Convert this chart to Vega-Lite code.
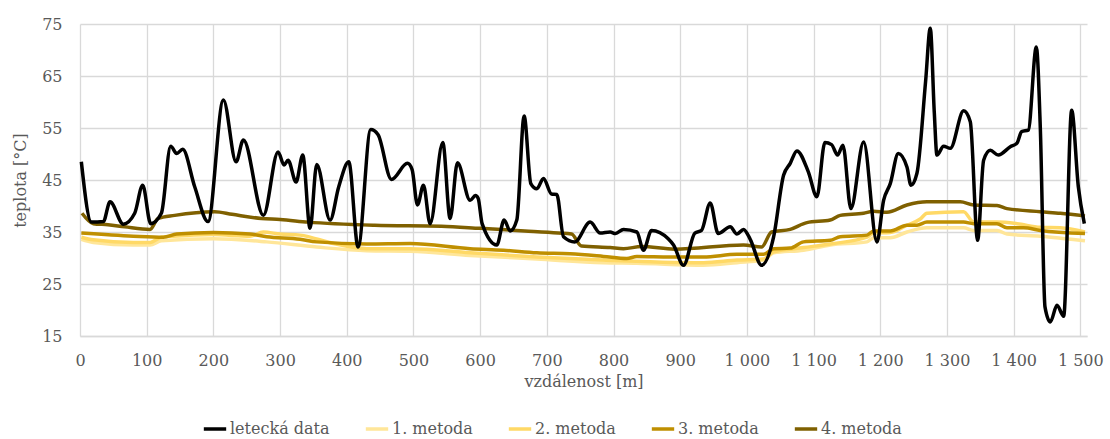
{
  "$schema": "https://vega.github.io/schema/vega-lite/v6.json",
  "width": 1007,
  "height": 312,
  "autosize": {"type": "none"},
  "padding": {"left": 80, "top": 24, "right": 23, "bottom": 103},
  "background": "white",
  "config": {
    "font": "DejaVu Serif",
    "view": {"stroke": null},
    "axis": {"gridColor": "#d9d9d9", "gridWidth": 1.3, "labelColor": "#595959", "titleColor": "#595959", "labelFont": "DejaVu Serif", "titleFont": "DejaVu Serif", "labelFontSize": 16, "titleFontSize": 16, "titleFontWeight": "normal", "ticks": false}
  },
  "datasets": {
    "air": [
      {"s":"letecká data","x":2,"y":48.5},{"s":"letecká data","x":17,"y":36.9},{"s":"letecká data","x":35,"y":37},{"s":"letecká data","x":45,"y":40.8},{"s":"letecká data","x":65,"y":36.5},{"s":"letecká data","x":82,"y":38.6},{"s":"letecká data","x":94,"y":44.0},{"s":"letecká data","x":106,"y":36.6},{"s":"letecká data","x":122,"y":38.6},{"s":"letecká data","x":136,"y":51.5},{"s":"letecká data","x":145,"y":50.1},{"s":"letecká data","x":154,"y":50.9},{"s":"letecká data","x":172,"y":43.7},{"s":"letecká data","x":192,"y":37.0},{"s":"letecká data","x":215,"y":60.4},{"s":"letecká data","x":234,"y":48.5},{"s":"letecká data","x":245,"y":52.7},{"s":"letecká data","x":275,"y":38.2},{"s":"letecká data","x":297,"y":50.4},{"s":"letecká data","x":306,"y":47.9},{"s":"letecká data","x":312,"y":48.8},{"s":"letecká data","x":324,"y":44.6},{"s":"letecká data","x":334,"y":49.8},{"s":"letecká data","x":345,"y":35.7},{"s":"letecká data","x":355,"y":48.0},{"s":"letecká data","x":375,"y":37.3},{"s":"letecká data","x":388,"y":43.7},{"s":"letecká data","x":403,"y":48.5},{"s":"letecká data","x":417,"y":32.1},{"s":"letecká data","x":436,"y":54.7},{"s":"letecká data","x":447,"y":53.7},{"s":"letecká data","x":467,"y":45.1},{"s":"letecká data","x":491,"y":48.2},{"s":"letecká data","x":498,"y":47},{"s":"letecká data","x":506,"y":40.2},{"s":"letecká data","x":515,"y":44.0},{"s":"letecká data","x":525,"y":36.6},{"s":"letecká data","x":544,"y":52.2},{"s":"letecká data","x":555,"y":37.6},{"s":"letecká data","x":566,"y":48.3},{"s":"letecká data","x":585,"y":41.1},{"s":"letecká data","x":593,"y":42.0},{"s":"letecká data","x":597,"y":41.5},{"s":"letecká data","x":603,"y":36.6},{"s":"letecká data","x":625,"y":32.5},{"s":"letecká data","x":636,"y":37.3},{"s":"letecká data","x":645,"y":35.2},{"s":"letecká data","x":655,"y":37.3},{"s":"letecká data","x":666,"y":57.3},{"s":"letecká data","x":676,"y":44.3},{"s":"letecká data","x":685,"y":43.3},{"s":"letecká data","x":695,"y":45.3},{"s":"letecká data","x":707,"y":42.3},{"s":"letecká data","x":715,"y":42.2},{"s":"letecká data","x":725,"y":34.1},{"s":"letecká data","x":742,"y":33.1},{"s":"letecká data","x":765,"y":36.9},{"s":"letecká data","x":780,"y":34.8},{"s":"letecká data","x":795,"y":35.0},{"s":"letecká data","x":803,"y":34.7},{"s":"letecká data","x":815,"y":35.5},{"s":"letecká data","x":835,"y":35.0},{"s":"letecká data","x":845,"y":31.5},{"s":"letecká data","x":857,"y":35.3},{"s":"letecká data","x":882,"y":33.7},{"s":"letecká data","x":890,"y":32.5},{"s":"letecká data","x":905,"y":28.6},{"s":"letecká data","x":922,"y":34.8},{"s":"letecká data","x":932,"y":35.3},{"s":"letecká data","x":945,"y":40.6},{"s":"letecká data","x":957,"y":34.7},{"s":"letecká data","x":975,"y":36.0},{"s":"letecká data","x":985,"y":34.6},{"s":"letecká data","x":995,"y":35.5},{"s":"letecká data","x":1005,"y":33.6},{"s":"letecká data","x":1022,"y":28.6},{"s":"letecká data","x":1040,"y":34.0},{"s":"letecká data","x":1055,"y":45.9},{"s":"letecká data","x":1065,"y":48.2},{"s":"letecká data","x":1075,"y":50.6},{"s":"letecká data","x":1092,"y":46.6},{"s":"letecká data","x":1105,"y":41.8},{"s":"letecká data","x":1117,"y":52.2},{"s":"letecká data","x":1127,"y":51.8},{"s":"letecká data","x":1136,"y":49.8},{"s":"letecká data","x":1144,"y":51.7},{"s":"letecká data","x":1156,"y":39.5},{"s":"letecká data","x":1175,"y":52.3},{"s":"letecká data","x":1195,"y":33.1},{"s":"letecká data","x":1205,"y":41.1},{"s":"letecká data","x":1215,"y":44.3},{"s":"letecká data","x":1227,"y":50.1},{"s":"letecká data","x":1240,"y":47.5},{"s":"letecká data","x":1246,"y":44.0},{"s":"letecká data","x":1255,"y":46.3},{"s":"letecká data","x":1268,"y":64},{"s":"letecká data","x":1275,"y":74.2},{"s":"letecká data","x":1281,"y":58},{"s":"letecká data","x":1285,"y":49.8},{"s":"letecká data","x":1295,"y":51.5},{"s":"letecká data","x":1305,"y":51.1},{"s":"letecká data","x":1325,"y":58.3},{"s":"letecká data","x":1335,"y":56.2},{"s":"letecká data","x":1346,"y":33.4},{"s":"letecká data","x":1355,"y":48.8},{"s":"letecká data","x":1365,"y":50.7},{"s":"letecká data","x":1377,"y":49.8},{"s":"letecká data","x":1395,"y":51.4},{"s":"letecká data","x":1405,"y":52.1},{"s":"letecká data","x":1412,"y":54.3},{"s":"letecká data","x":1422,"y":54.6},{"s":"letecká data","x":1434,"y":70.6},{"s":"letecká data","x":1440,"y":55},{"s":"letecká data","x":1447,"y":20.6},{"s":"letecká data","x":1455,"y":17.7},{"s":"letecká data","x":1465,"y":20.9},{"s":"letecká data","x":1475,"y":18.8},{"s":"letecká data","x":1487,"y":58.4},{"s":"letecká data","x":1497,"y":43.7},{"s":"letecká data","x":1506,"y":36.6}
    ],
    "methods": [
      {"s":"1. metoda","x":2,"y":33.6},{"s":"1. metoda","x":20,"y":33.0},{"s":"1. metoda","x":80,"y":32.5},{"s":"1. metoda","x":105,"y":32.5},{"s":"1. metoda","x":122,"y":33.3},{"s":"1. metoda","x":200,"y":33.7},{"s":"1. metoda","x":280,"y":33.1},{"s":"1. metoda","x":355,"y":32.1},{"s":"1. metoda","x":430,"y":31.4},{"s":"1. metoda","x":495,"y":31.3},{"s":"1. metoda","x":585,"y":30.5},{"s":"1. metoda","x":685,"y":29.8},{"s":"1. metoda","x":785,"y":29.1},{"s":"1. metoda","x":835,"y":29.0},{"s":"1. metoda","x":935,"y":28.6},{"s":"1. metoda","x":985,"y":29.1},{"s":"1. metoda","x":1025,"y":29.6},{"s":"1. metoda","x":1040,"y":31.0},{"s":"1. metoda","x":1085,"y":31.5},{"s":"1. metoda","x":1125,"y":32.5},{"s":"1. metoda","x":1180,"y":33.1},{"s":"1. metoda","x":1190,"y":33.9},{"s":"1. metoda","x":1215,"y":33.9},{"s":"1. metoda","x":1240,"y":35.0},{"s":"1. metoda","x":1270,"y":35.8},{"s":"1. metoda","x":1325,"y":35.8},{"s":"1. metoda","x":1340,"y":35.3},{"s":"1. metoda","x":1375,"y":35.3},{"s":"1. metoda","x":1390,"y":34.6},{"s":"1. metoda","x":1440,"y":34.2},{"s":"1. metoda","x":1507,"y":33.3},
      {"s":"2. metoda","x":2,"y":34.0},{"s":"2. metoda","x":20,"y":33.5},{"s":"2. metoda","x":80,"y":33.0},{"s":"2. metoda","x":105,"y":33.0},{"s":"2. metoda","x":122,"y":34.0},{"s":"2. metoda","x":140,"y":34.2},{"s":"2. metoda","x":200,"y":34.5},{"s":"2. metoda","x":255,"y":34.2},{"s":"2. metoda","x":275,"y":35.0},{"s":"2. metoda","x":300,"y":34.6},{"s":"2. metoda","x":330,"y":34.4},{"s":"2. metoda","x":380,"y":32.8},{"s":"2. metoda","x":430,"y":31.8},{"s":"2. metoda","x":495,"y":31.8},{"s":"2. metoda","x":585,"y":31.0},{"s":"2. metoda","x":685,"y":30.2},{"s":"2. metoda","x":785,"y":29.6},{"s":"2. metoda","x":935,"y":29.1},{"s":"2. metoda","x":985,"y":29.6},{"s":"2. metoda","x":1025,"y":29.8},{"s":"2. metoda","x":1040,"y":31.2},{"s":"2. metoda","x":1085,"y":32.0},{"s":"2. metoda","x":1125,"y":32.7},{"s":"2. metoda","x":1180,"y":34.0},{"s":"2. metoda","x":1190,"y":34.8},{"s":"2. metoda","x":1215,"y":34.9},{"s":"2. metoda","x":1240,"y":36.3},{"s":"2. metoda","x":1260,"y":37.5},{"s":"2. metoda","x":1270,"y":38.6},{"s":"2. metoda","x":1325,"y":38.9},{"s":"2. metoda","x":1340,"y":36.9},{"s":"2. metoda","x":1375,"y":36.9},{"s":"2. metoda","x":1405,"y":36.6},{"s":"2. metoda","x":1440,"y":35.9},{"s":"2. metoda","x":1470,"y":35.8},{"s":"2. metoda","x":1507,"y":35.0},
      {"s":"3. metoda","x":2,"y":34.8},{"s":"3. metoda","x":80,"y":34.2},{"s":"3. metoda","x":125,"y":34.0},{"s":"3. metoda","x":145,"y":34.6},{"s":"3. metoda","x":200,"y":34.9},{"s":"3. metoda","x":255,"y":34.6},{"s":"3. metoda","x":280,"y":34.1},{"s":"3. metoda","x":330,"y":33.6},{"s":"3. metoda","x":355,"y":33.1},{"s":"3. metoda","x":430,"y":32.7},{"s":"3. metoda","x":495,"y":32.8},{"s":"3. metoda","x":585,"y":31.8},{"s":"3. metoda","x":635,"y":31.5},{"s":"3. metoda","x":685,"y":31.0},{"s":"3. metoda","x":735,"y":30.8},{"s":"3. metoda","x":785,"y":30.3},{"s":"3. metoda","x":820,"y":29.9},{"s":"3. metoda","x":835,"y":30.3},{"s":"3. metoda","x":885,"y":30.2},{"s":"3. metoda","x":935,"y":30.2},{"s":"3. metoda","x":985,"y":30.7},{"s":"3. metoda","x":1025,"y":30.7},{"s":"3. metoda","x":1040,"y":31.8},{"s":"3. metoda","x":1065,"y":31.9},{"s":"3. metoda","x":1085,"y":33.1},{"s":"3. metoda","x":1125,"y":33.4},{"s":"3. metoda","x":1140,"y":34.1},{"s":"3. metoda","x":1180,"y":34.4},{"s":"3. metoda","x":1190,"y":35.2},{"s":"3. metoda","x":1215,"y":35.2},{"s":"3. metoda","x":1240,"y":36.3},{"s":"3. metoda","x":1255,"y":36.3},{"s":"3. metoda","x":1270,"y":36.9},{"s":"3. metoda","x":1325,"y":36.9},{"s":"3. metoda","x":1340,"y":36.6},{"s":"3. metoda","x":1375,"y":36.6},{"s":"3. metoda","x":1390,"y":35.8},{"s":"3. metoda","x":1415,"y":35.8},{"s":"3. metoda","x":1440,"y":35.3},{"s":"3. metoda","x":1507,"y":34.7},
      {"s":"4. metoda","x":3,"y":38.6},{"s":"4. metoda","x":20,"y":36.6},{"s":"4. metoda","x":42,"y":36.4},{"s":"4. metoda","x":67,"y":36.0},{"s":"4. metoda","x":105,"y":35.5},{"s":"4. metoda","x":117,"y":37.6},{"s":"4. metoda","x":142,"y":38.2},{"s":"4. metoda","x":202,"y":38.9},{"s":"4. metoda","x":228,"y":38.4},{"s":"4. metoda","x":272,"y":37.6},{"s":"4. metoda","x":300,"y":37.4},{"s":"4. metoda","x":342,"y":36.9},{"s":"4. metoda","x":442,"y":36.3},{"s":"4. metoda","x":542,"y":36.1},{"s":"4. metoda","x":600,"y":35.7},{"s":"4. metoda","x":667,"y":35.2},{"s":"4. metoda","x":717,"y":34.8},{"s":"4. metoda","x":737,"y":34.6},{"s":"4. metoda","x":752,"y":32.3},{"s":"4. metoda","x":795,"y":32.0},{"s":"4. metoda","x":815,"y":31.8},{"s":"4. metoda","x":842,"y":32.2},{"s":"4. metoda","x":892,"y":31.7},{"s":"4. metoda","x":995,"y":32.5},{"s":"4. metoda","x":1022,"y":32.1},{"s":"4. metoda","x":1037,"y":35.0},{"s":"4. metoda","x":1065,"y":35.5},{"s":"4. metoda","x":1090,"y":36.8},{"s":"4. metoda","x":1125,"y":37.3},{"s":"4. metoda","x":1140,"y":38.2},{"s":"4. metoda","x":1175,"y":38.6},{"s":"4. metoda","x":1190,"y":39.0},{"s":"4. metoda","x":1210,"y":38.8},{"s":"4. metoda","x":1240,"y":40.2},{"s":"4. metoda","x":1270,"y":40.8},{"s":"4. metoda","x":1320,"y":40.8},{"s":"4. metoda","x":1340,"y":40.2},{"s":"4. metoda","x":1375,"y":40.1},{"s":"4. metoda","x":1390,"y":39.5},{"s":"4. metoda","x":1440,"y":38.9},{"s":"4. metoda","x":1470,"y":38.6},{"s":"4. metoda","x":1507,"y":38.1}
    ]
  },
  "encoding": {
    "x": {"field": "x", "type": "quantitative", "title": "vzdálenost [m]",
      "scale": {"domain": [0, 1510], "nice": false, "zero": false},
      "axis": {"values": [0,100,200,300,400,500,600,700,800,900,1000,1100,1200,1300,1400,1500], "labelExpr": "replace(format(datum.value, ','), ',', ' ')", "domainColor": "#d9d9d9", "domainWidth": 1.3, "labelPadding": 16, "titlePadding": 5, "labelFlush": false}},
    "y": {"field": "y", "type": "quantitative", "title": "teplota [°C]",
      "scale": {"domain": [15, 75], "nice": false, "zero": false},
      "axis": {"values": [15,25,35,45,55,65,75], "domain": false, "labelPadding": 18, "titlePadding": 13}},
    "color": {"field": "s", "type": "nominal", "title": null,
      "scale": {"domain": ["letecká data", "1. metoda", "2. metoda", "3. metoda", "4. metoda"], "range": ["#000000", "#FFE699", "#FFD966", "#BF8F00", "#7F6000"]},
      "legend": {"orient": "none", "legendX": 122, "legendY": 392, "direction": "horizontal", "symbolType": "stroke", "symbolSize": 500, "symbolStrokeWidth": 3.5, "labelFontSize": 16, "labelColor": "#595959", "labelFont": "DejaVu Serif", "labelOffset": 2, "columnPadding": 28}}
  },
  "layer": [
    {"data": {"name": "methods"}, "mark": {"type": "line", "interpolate": "monotone", "strokeWidth": 3.5}},
    {"data": {"name": "air"}, "mark": {"type": "line", "interpolate": "monotone", "strokeWidth": 3.5}}
  ]
}
